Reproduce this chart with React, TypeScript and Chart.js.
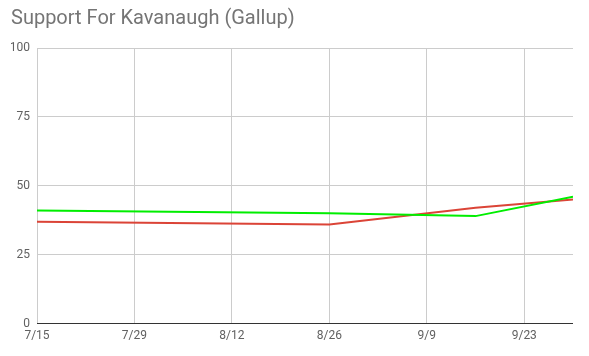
import React, { useEffect, useRef } from "react";
import { Chart, registerables } from "chart.js";

Chart.register(...registerables);

const titleText = "Support For Kavanaugh (Gallup)";
const startDate = "2018-07-15";
const pollDates = ["2018-07-15", "2018-08-26", "2018-09-16", "2018-09-30"];
const supportValues = [41, 40, 39, 46];
const opposeValues = [37, 36, 42, 45];
const yTicks = [0, 25, 50, 75, 100];
const xTickStepDays = 14;
const xMaxDays = 77;

const DAY = 86400000;
const toDays = (d: string) => Math.round((Date.parse(d + "T00:00:00Z") - Date.parse(startDate + "T00:00:00Z")) / DAY);
const dayLabel = (n: number) => {
  const d = new Date(Date.parse(startDate + "T00:00:00Z") + n * DAY);
  return `${d.getUTCMonth() + 1}/${d.getUTCDate()}`;
};

export default function App() {
  const ref = useRef<HTMLCanvasElement>(null);
  useEffect(() => {
    document.body.style.margin = "0";
    const xs = pollDates.map(toDays);
    const chart = new Chart(ref.current!, {
      type: "line",
      data: {
        datasets: [
          {
            label: "Support",
            data: xs.map((x, i) => ({ x, y: supportValues[i] })),
            borderColor: "#00ee00",
            borderWidth: 2,
            pointRadius: 0,
            tension: 0,
          },
          {
            label: "Oppose",
            data: xs.map((x, i) => ({ x, y: opposeValues[i] })),
            borderColor: "#db4437",
            borderWidth: 2,
            pointRadius: 0,
            tension: 0,
          },
        ],
      },
      options: {
        animation: false,
        responsive: false,
        layout: { padding: { left: 11, right: 16, top: 0, bottom: 8 } },
        plugins: {
          legend: { display: false },
          tooltip: { enabled: false },
          title: {
            display: true,
            text: titleText,
            align: "start",
            color: "#757575",
            font: { family: "Roboto", size: 20, weight: "normal" },
            padding: { top: 7, bottom: 17 },
          },
        },
        scales: {
          x: {
            type: "linear",
            min: 0,
            max: xMaxDays,
            afterBuildTicks: (s: any) => {
              s.ticks = s.ticks.filter((t: any) => t.value % xTickStepDays === 0);
            },
            ticks: {
              stepSize: xTickStepDays,
              callback: (v: any) => dayLabel(Number(v)),
              color: "#616161",
              font: { family: "Roboto", size: 12 },
              maxRotation: 0,
              padding: 5,
            },
            grid: { color: "#cccccc", drawTicks: false, lineWidth: 1 },
            border: { display: false },
          },
          y: {
            min: 0,
            max: 100,
            afterBuildTicks: (s: any) => {
              s.ticks = yTicks.map((v) => ({ value: v }));
            },
            afterFit: (s: any) => {
              s.width = 26;
            },
            ticks: {
              color: "#616161",
              font: { family: "Roboto", size: 12 },
              padding: 7,
            },
            grid: {
              drawTicks: false,
              color: (ctx: any) => (ctx.tick && ctx.tick.value === 0 ? "#333333" : "#cccccc"),
              lineWidth: 1,
            },
            border: { display: false },
          },
        },
      },
    });
    return () => chart.destroy();
  }, []);
  return <canvas ref={ref} width={589} height={356} style={{ display: "block" }} />;
}
